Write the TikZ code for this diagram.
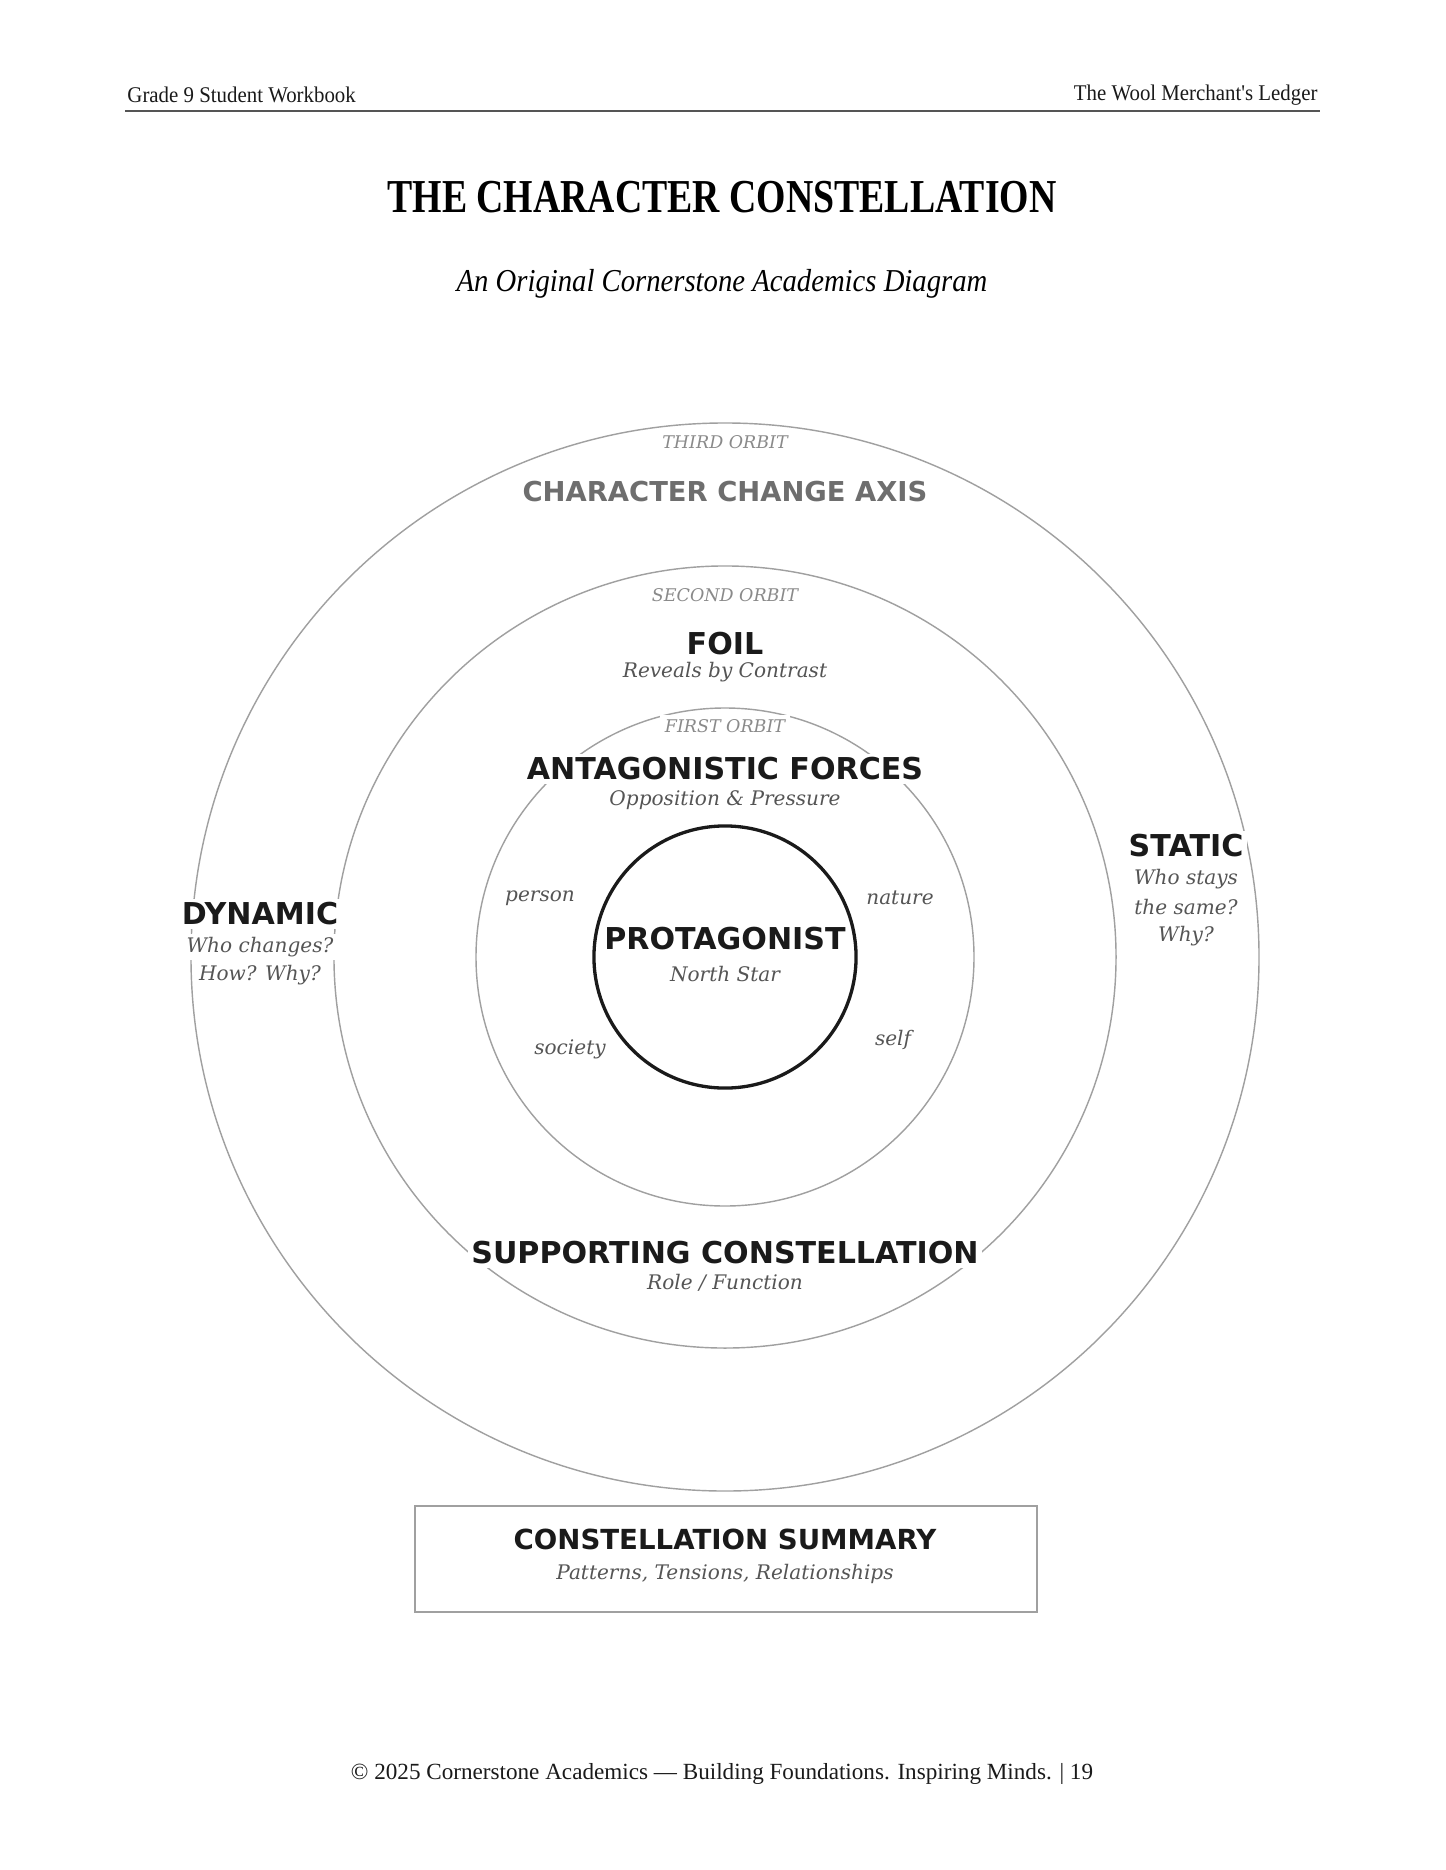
\documentclass[tikz,border=0pt]{standalone}
\usepackage{fontspec}
\setmainfont{Liberation Serif}
\newfontfamily\titlefont[FakeStretch=0.8]{Liberation Serif}
\newfontfamily\subfont[FakeStretch=0.9]{Liberation Serif}
\newfontfamily\headfont[FakeStretch=0.93]{Liberation Serif}
\newfontfamily\labelfont{DejaVu Sans}
\newfontfamily\notefont{DejaVu Serif}
\usetikzlibrary{positioning}

\definecolor{ink}{HTML}{1A1A1A}
\definecolor{note}{HTML}{555555}
\definecolor{faint}{HTML}{8A8A8A}
\definecolor{ring}{HTML}{A0A0A0}

\begin{document}
\begin{tikzpicture}[x=0.4235pt, y=-0.4235pt,
        orbit/.style={circle, draw=ring, line width=0.6pt, inner sep=0pt},
        core/.style={circle, draw=ink, line width=1.4pt, inner sep=0pt},
        heading/.style={font=\labelfont\bfseries\fontsize{12.75}{15}\selectfont, text=ink, fill=white, inner sep=1.5pt},
        caption/.style={font=\notefont\itshape\fontsize{8.5}{10}\selectfont, text=note, fill=white, inner sep=1.5pt},
        orbitname/.style={font=\notefont\itshape\fontsize{7.4}{9}\selectfont, text=faint, fill=white, inner sep=2pt},
        force/.style={font=\notefont\itshape\fontsize{8.5}{10}\selectfont, text=note},
        pageline/.style={font=\headfont\fontsize{9.5}{11}\selectfont, text=ink, inner sep=0pt}
    ]
        \useasboundingbox[fill=white] (0,0) rectangle (1445,1870);

        % Page header
        \node[pageline, anchor=west] (grade) at (127, 95) {Grade 9 Student Workbook};
        \node[pageline, anchor=east] (book) at (1318, 95) {The Wool Merchant's Ledger};
        \coordinate (ruleL) at (125, 111);
        \coordinate (ruleR) at (1320, 111);
        \draw[draw=note, line width=0.7pt] (ruleL) -- (ruleR);

        \node[font=\titlefont\bfseries\fontsize{20}{24}\selectfont] (title) at (722, 197) {THE CHARACTER CONSTELLATION};
        \node[font=\subfont\itshape\fontsize{13.5}{16}\selectfont] (subtitle) at (722, 284) {An Original Cornerstone Academics Diagram};

        % Orbits, outermost first
        \node[orbit, minimum size=452.3pt] (third) at (725, 957) {};
        \node[orbit, minimum size=331.2pt] (second) at (725, 957) {};
        \node[orbit, minimum size=210.9pt] (first) at (725, 957) {};
        \node[core, minimum size=111pt] (star) at (725, 957) {};

        % Third orbit
        \node[orbitname] (thirdname) at (725, 442) {THIRD ORBIT};
        \node[heading, text=faint!80!black, font=\labelfont\bfseries\fontsize{11.6}{14}\selectfont] (axis) at (725, 492) {CHARACTER CHANGE AXIS};
        \node[heading] (dynamic) at (260, 914) {DYNAMIC};
        \node[caption] (dynamicA) at (260, 947) {Who changes?};
        \node[caption] (dynamicB) at (260, 975) {How? Why?};
        \node[heading] (static) at (1186, 846) {STATIC};
        \node[caption] (staticA) at (1186, 879) {Who stays};
        \node[caption] (staticB) at (1186, 907) {the same?};
        \node[caption] (staticC) at (1186, 936) {Why?};

        % Second orbit
        \node[orbitname] (secondname) at (725, 595) {SECOND ORBIT};
        \node[heading] (foil) at (725, 644) {FOIL};
        \node[caption] (foilnote) at (725, 672) {Reveals by Contrast};
        \node[heading] (support) at (725, 1253) {SUPPORTING CONSTELLATION};
        \node[caption] (supportnote) at (725, 1283) {Role / Function};

        % First orbit
        \node[orbitname] (firstname) at (725, 726) {FIRST ORBIT};
        \node[heading] (forces) at (725, 769) {ANTAGONISTIC FORCES};
        \node[caption] (forcesnote) at (725, 800) {Opposition \& Pressure};
        \node[force] (person) at (540, 898) {person};
        \node[force] (nature) at (900, 898) {nature};
        \node[force] (society) at (570, 1049) {society};
        \node[force] (self) at (893, 1040) {self};

        % Centre
        \node[heading, fill=none] (protagonist) at (725, 939) {PROTAGONIST};
        \node[caption, fill=none] (northstar) at (725, 974) {North Star};

        % Summary box
        \node[draw=ring, line width=0.6pt, minimum width=263.4pt, minimum height=44.9pt] (summarybox) at (726, 1559) {};
        \node[heading, font=\labelfont\bfseries\fontsize{11.7}{14}\selectfont] (summary) at (725, 1539) {CONSTELLATION SUMMARY};
        \node[caption] (summarynote) at (725, 1574) {Patterns, Tensions, Relationships};

        % Page footer
        \node[pageline, font=\fontsize{9.8}{12}\selectfont] (footer) at (722, 1774) {© 2025 Cornerstone Academics — Building Foundations. Inspiring Minds. | 19};
    \end{tikzpicture}
\end{document}
